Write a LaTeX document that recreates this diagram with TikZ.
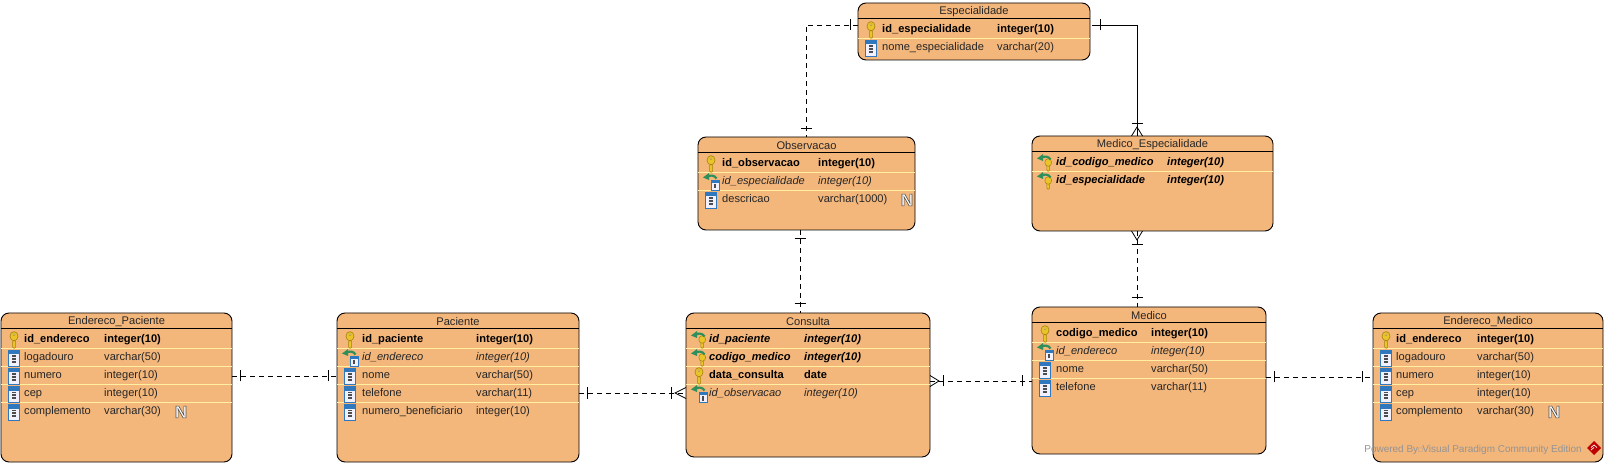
\documentclass[tikz,border=0pt]{standalone}
\usepackage{xcolor}
\usepackage{fontspec}
\setmainfont{Liberation Sans}
\usetikzlibrary{positioning,decorations.markings}
\definecolor{caixa}{HTML}{F3B67B}
\definecolor{separa}{HTML}{FFEFA0}
\definecolor{ouro}{HTML}{EBC42A}
\definecolor{ourofio}{HTML}{A5820F}
\definecolor{azul}{HTML}{2F78BE}
\definecolor{verde}{HTML}{2F8F5B}
\tikzset{
  tabela/.style 2 args={rectangle, draw=black, fill=caixa, rounded corners=8pt,
    line width=0.9pt, minimum width=#1, minimum height=#2, inner sep=0pt, outer sep=0pt},
  titulo/.style={font=\fontsize{11.1}{13}\selectfont, text=black!85, inner sep=0pt},
  campo/.style={anchor=west, inner sep=0pt, text height=8pt, text depth=2.5pt, text=black!85,
    font=\fontsize{11.1}{13}\selectfont},
  chave/.style={campo, text=black, font=\fontsize{11.1}{13}\selectfont\bfseries},
  chavefk/.style={campo, text=black, font=\fontsize{11.1}{13}\selectfont\bfseries\itshape},
  itfk/.style={campo, font=\fontsize{11.1}{13}\selectfont\itshape},
  rel/.style={line width=0.8pt, draw=black},
  tracejado/.style={rel, dash pattern=on 5pt off 4pt},
  barra/.style={postaction={decorate, decoration={markings, mark=at position #1 with
    {\draw[solid, line width=0.8pt] (0,-5.5pt) -- (0,5.5pt);}}}},
  peinicio/.style={postaction={decorate, decoration={markings, mark=at position #1 with
    {\draw[solid, line width=0.8pt] (-#1,5.5pt) -- (0,0) -- (-#1,-5.5pt);}}}},
  pefim/.style={postaction={decorate, decoration={markings, mark=at position -#1 with
    {\draw[solid, line width=0.8pt] (#1,5.5pt) -- (0,0) -- (#1,-5.5pt);}}}},
  chaveicone/.pic={
    \draw[fill=ouro, draw=ourofio, line width=0.5pt] (-1.5pt,-1pt) -- (-1.5pt,-7pt) -- (0.2pt,-8.4pt)
      -- (1.7pt,-7pt) -- (1.7pt,-1pt) -- cycle;
    \draw[fill=ouro, draw=ourofio, line width=0.6pt] (0,3.8pt) circle (4pt and 4.6pt);
    \draw[fill=white, draw=ourofio, line width=0.3pt] (0,5.2pt) circle (1.1pt);
  },
  colunaicone/.pic={
    \draw[fill=blue!6, draw=azul, line width=0.7pt] (-5.5pt,-8pt) rectangle (5.5pt,8pt);
    \fill[azul] (-5.5pt,3.5pt) rectangle (5.5pt,8pt);
    \foreach \yb in {1,-1.8,-4.6}
      \fill[black!70] (-1.8pt,\yb pt) rectangle (1.8pt,\yb pt+1.5pt);
  },
  setaverde/.pic={
    \draw[verde, line width=2.2pt] (5.5pt,3.5pt) .. controls (3.5pt,7pt) and (-1pt,7pt) .. (-3pt,5.5pt);
    \fill[verde] (-8pt,4.5pt) -- (-2pt,9pt) -- (-2pt,2pt) -- cycle;
  },
  fkicone/.pic={
    \draw[fill=blue!6, draw=azul, line width=0.5pt] (0pt,-8pt) rectangle (8pt,2pt);
    \fill[azul] (0pt,-1pt) rectangle (8pt,2pt);
    \fill[black!70] (3pt,-6.5pt) rectangle (5pt,-2.2pt);
    \pic {setaverde};
  },
  fkchave/.pic={
    \draw[fill=ouro, draw=ourofio, line width=0.5pt] (1.8pt,-1pt) -- (1.8pt,-7pt) -- (3.2pt,-8.4pt)
      -- (4.7pt,-7pt) -- (4.7pt,-1pt) -- cycle;
    \draw[fill=ouro, draw=ourofio, line width=0.5pt] (3.2pt,0.5pt) circle (3.4pt and 3.8pt);
    \pic {setaverde};
  },
  logoicone/.pic={
    \fill[red!75!black] (0,7pt) -- (7pt,0) -- (0,-7pt) -- (-7pt,0) -- cycle;
    \draw[white, line width=0.7pt] (-3pt,0.5pt) -- (0,3pt) -- (3pt,0.5pt) (-3pt,-2pt) -- (0,0.5pt);
  },
}
% largura das colunas de cada tabela
\newcommand{\colunas}[2]{\def\xnome{#1}\def\xtipo{#2}}
% tabela, linha, icone, estilo, nome, tipo
\newcommand{\linhacampo}[6]{
  \pgfmathsetmacro{\yc}{27+18*(#2-1)}
  \pic at ([shift={(13pt,-\yc pt)}]#1.north west) {#3};
  \node[#4] (#1-n#2) at ([shift={(\xnome pt,-\yc pt)}]#1.north west) {#5};
  \node[#4] (#1-t#2) at ([shift={(\xtipo pt,-\yc pt)}]#1.north west) {#6};
}
\newcommand{\cabecalho}[3]{
  \node[titulo] (#1-tit) at ([yshift=-8.5pt]#1.north) {#2};
  \draw[line width=0.8pt] ([yshift=-15.5pt]#1.north west) -- ([yshift=-15.5pt]#1.north east);
  \foreach \n in {1,...,#3}
    \draw[separa, line width=0.8pt] ([yshift=-17pt-18pt*\n]#1.north west) -- ([yshift=-17pt-18pt*\n]#1.north east);
}
\newcommand{\nulo}[3]{
  \pgfmathsetmacro{\yc}{27+18*(#2-1)}
  \node[inner sep=0pt, font=\fontsize{17}{17}\selectfont\bfseries] (#1-nulo) at ([shift={(#3pt,-\yc pt)}]#1.north west)
    {\special{pdf:code 2 Tr 0.6 w 0.3 0.3 0.3 RG 1 1 1 rg}N\special{pdf:code 0 Tr 0 w 0 0 0 RG 0 0 0 rg}};
}

\begin{document}
\begin{tikzpicture}[x=1pt,y=1pt]
    \useasboundingbox (0,0) rectangle (1606,466);

    \node[tabela={231pt}{149pt}] (endpac) at (116.5,78.5) {};
    \node[tabela={242pt}{149pt}, right=105pt of endpac] (paciente) {};
    \node[tabela={244pt}{144pt}, right=107pt of paciente, yshift=2.5pt] (consulta) {};
    \node[tabela={234pt}{147pt}, right=102pt of consulta, yshift=4.5pt] (medico) {};
    \node[tabela={230pt}{149pt}, right=107pt of medico, yshift=-7pt] (endmed) {};
    \node[tabela={217pt}{93pt}, above=83pt of consulta, xshift=-1.5pt] (observacao) {};
    \node[tabela={241pt}{95pt}, above=76pt of medico, xshift=3.5pt] (medesp) {};
    \node[tabela={232pt}{57pt}, above=77pt of observacao, xshift=167.5pt] (especialidade) {};

    % relacionamentos
    \draw[tracejado, barra=8pt, barra=-9pt] ([yshift=6.5pt]especialidade.west) -| (observacao.north);
    \draw[rel, barra=8pt, barra=-13pt, pefim=9pt] ([xshift=2pt,yshift=6.5pt]especialidade.east) -| ([xshift=-15.5pt]medesp.north);
    \draw[tracejado, barra=8pt, barra=-10pt] ([xshift=-6.5pt]observacao.south) -- ([xshift=-8pt]consulta.north);
    \draw[tracejado, peinicio=9pt, barra=13pt, barra=-10pt] ([xshift=-15.5pt]medesp.south) -- ([xshift=-12pt]medico.north);
    \draw[tracejado, barra=8pt, barra=-9pt] ([yshift=11.5pt]endpac.east) -- ([yshift=11.5pt]paciente.west);
    \draw[tracejado, barra=8pt, barra=-15pt, pefim=11pt] ([yshift=-5.5pt]paciente.east) -- ([yshift=-8pt]consulta.west);
    \draw[tracejado, peinicio=9pt, barra=13pt, barra=-10pt] ([yshift=4pt]consulta.east) -- ([yshift=-0.5pt]medico.west);
    \draw[tracejado, barra=8pt, barra=-11pt] ([yshift=3.5pt]medico.east) -- ([yshift=10.5pt]endmed.west);

    \cabecalho{especialidade}{Especialidade}{1}
    \colunas{24}{139}
    \linhacampo{especialidade}{1}{chaveicone}{chave}{id\_especialidade}{integer(10)}
    \linhacampo{especialidade}{2}{colunaicone}{campo}{nome\_especialidade}{varchar(20)}

    \cabecalho{observacao}{Observacao}{2}
    \colunas{24}{120}
    \linhacampo{observacao}{1}{chaveicone}{chave}{id\_observacao}{integer(10)}
    \linhacampo{observacao}{2}{fkicone}{itfk}{id\_especialidade}{integer(10)}
    \linhacampo{observacao}{3}{colunaicone}{campo}{descricao}{varchar(1000)}
    \nulo{observacao}{3}{209}

    \cabecalho{medesp}{Medico\_Especialidade}{1}
    \colunas{24}{135}
    \linhacampo{medesp}{1}{fkchave}{chavefk}{id\_codigo\_medico}{integer(10)}
    \linhacampo{medesp}{2}{fkchave}{chavefk}{id\_especialidade}{integer(10)}

    \cabecalho{endpac}{Endereco\_Paciente}{4}
    \colunas{23}{103}
    \linhacampo{endpac}{1}{chaveicone}{chave}{id\_endereco}{integer(10)}
    \linhacampo{endpac}{2}{colunaicone}{campo}{logadouro}{varchar(50)}
    \linhacampo{endpac}{3}{colunaicone}{campo}{numero}{integer(10)}
    \linhacampo{endpac}{4}{colunaicone}{campo}{cep}{integer(10)}
    \linhacampo{endpac}{5}{colunaicone}{campo}{complemento}{varchar(30)}
    \nulo{endpac}{5}{180}

    \cabecalho{paciente}{Paciente}{4}
    \colunas{25}{139}
    \linhacampo{paciente}{1}{chaveicone}{chave}{id\_paciente}{integer(10)}
    \linhacampo{paciente}{2}{fkicone}{itfk}{id\_endereco}{integer(10)}
    \linhacampo{paciente}{3}{colunaicone}{campo}{nome}{varchar(50)}
    \linhacampo{paciente}{4}{colunaicone}{campo}{telefone}{varchar(11)}
    \linhacampo{paciente}{5}{colunaicone}{campo}{numero\_beneficiario}{integer(10)}

    \cabecalho{consulta}{Consulta}{3}
    \colunas{23}{118}
    \linhacampo{consulta}{1}{fkchave}{chavefk}{id\_paciente}{integer(10)}
    \linhacampo{consulta}{2}{fkchave}{chavefk}{codigo\_medico}{integer(10)}
    \linhacampo{consulta}{3}{chaveicone}{chave}{data\_consulta}{date}
    \linhacampo{consulta}{4}{fkicone}{itfk}{id\_observacao}{integer(10)}

    \cabecalho{medico}{Medico}{3}
    \colunas{24}{119}
    \linhacampo{medico}{1}{chaveicone}{chave}{codigo\_medico}{integer(10)}
    \linhacampo{medico}{2}{fkicone}{itfk}{id\_endereco}{integer(10)}
    \linhacampo{medico}{3}{colunaicone}{campo}{nome}{varchar(50)}
    \linhacampo{medico}{4}{colunaicone}{campo}{telefone}{varchar(11)}

    \cabecalho{endmed}{Endereco\_Medico}{4}
    \colunas{23}{104}
    \linhacampo{endmed}{1}{chaveicone}{chave}{id\_endereco}{integer(10)}
    \linhacampo{endmed}{2}{colunaicone}{campo}{logadouro}{varchar(50)}
    \linhacampo{endmed}{3}{colunaicone}{campo}{numero}{integer(10)}
    \linhacampo{endmed}{4}{colunaicone}{campo}{cep}{integer(10)}
    \linhacampo{endmed}{5}{colunaicone}{campo}{complemento}{varchar(30)}
    \nulo{endmed}{5}{181}

    \node[anchor=east, inner sep=0pt, text=black!42, font=\fontsize{10}{12}\selectfont] (marca) at (1582,16)
      {Powered By{\fontsize{7}{8}\selectfont □}Visual Paradigm Community Edition};
    \pic at (1594,18) {logoicone};
\end{tikzpicture}
\end{document}
